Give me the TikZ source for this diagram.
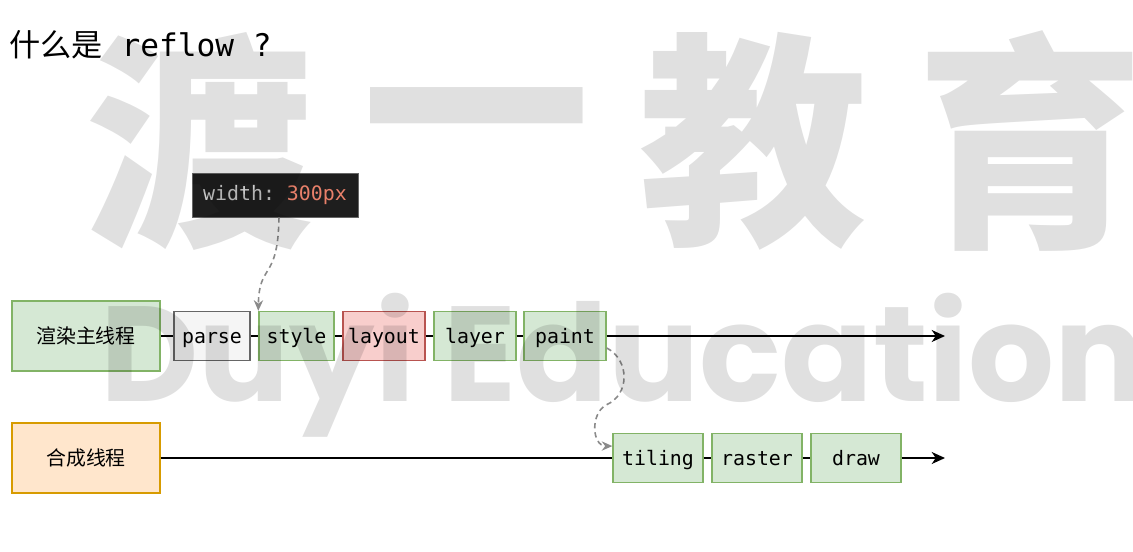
\documentclass[tikz,border=0pt]{standalone}
\usepackage{fontspec}
\usetikzlibrary{arrows.meta}
\setmainfont{Noto Sans CJK SC}
\setmonofont{DejaVu Sans Mono}
\newfontfamily\markfont{Poppins}

\definecolor{greenfill}{HTML}{D5E8D4}
\definecolor{greenline}{HTML}{82B366}
\definecolor{redfill}{HTML}{F8CECC}
\definecolor{redline}{HTML}{B85450}
\definecolor{orangefill}{HTML}{FFE6CC}
\definecolor{orangeline}{HTML}{D79B00}
\definecolor{greyfill}{HTML}{F5F5F5}
\definecolor{greyline}{HTML}{666666}
\definecolor{codebg}{HTML}{1E1E1E}
\definecolor{codekey}{HTML}{CCCCCC}
\definecolor{codeval}{HTML}{E8806A}
\definecolor{hintgray}{HTML}{8A8A8A}

\begin{document}
\begin{tikzpicture}[x=0.0265cm, y=-0.0265cm,
    thread/.style={draw, line width=1pt, inner sep=0pt, minimum width=3.922cm, minimum height=1.855cm, font=\fontsize{15}{18}\selectfont},
    stage/.style={draw=greenline, fill=greenfill, line width=1pt, inner sep=0pt, minimum height=1.3cm, text height=13pt, text depth=1pt, font=\fontsize{15}{18}\selectfont\ttfamily},
    link/.style={line width=1.4pt},
    hint/.style={hintgray, line width=1.2pt, dash pattern=on 4pt off 3pt, -{Stealth[length=8pt,width=7pt]}},
    watermark/.style={text=black, text opacity=0.12, inner sep=0pt}]
    \useasboundingbox (0,0) rectangle (1133,551);
    \clip (0,0) rectangle (1133,551);

    % title
    \node[anchor=west, inner sep=0pt, font=\fontsize{23.5}{26}\selectfont] (title) at (9,45) {什么是\texttt{ reflow ?}};

    % the changed property
    \node[fill=codebg, draw=greyline, line width=0.6pt, inner sep=0pt, minimum width=4.4cm, minimum height=1.166cm, font=\fontsize{15}{18}\selectfont\ttfamily] (code) at (275,195) {\textcolor{codekey}{width:} \textcolor{codeval}{300px}};

    % threads
    \node[thread, draw=greenline, fill=greenfill] (main) at (86,336) {渲染主线程};
    \node[thread, draw=orangeline, fill=orangefill] (comp) at (86,458) {合成线程};

    % main thread stages
    \node[stage, draw=greyline, fill=greyfill, minimum width=2.014cm] (parse) at (212,336) {parse};
    \node[stage, minimum width=1.99cm] (style) at (296.5,336) {style};
    \node[stage, draw=redline, fill=redfill, minimum width=2.173cm] (layout) at (384,336) {layout};
    \node[stage, minimum width=2.173cm] (layer) at (475,336) {layer};
    \node[stage, minimum width=2.173cm] (paint) at (565,336) {paint};

    % compositor stages
    \node[stage, minimum width=2.385cm] (tiling) at (658,458) {tiling};
    \node[stage, minimum width=2.385cm] (raster) at (757,458) {raster};
    \node[stage, minimum width=2.385cm] (draw) at (856,458) {draw};

    \coordinate (mainend) at (945,336);
    \coordinate (compend) at (945,458);

    % time lines
    \foreach \a/\b in {main/parse, parse/style, style/layout, layout/layer, layer/paint, tiling/raster, raster/draw} {
        \draw[link] (\a.east) -- (\b.west);
    }
    \draw[link, -{Stealth[length=10pt,width=9pt,inset=3pt]}] (paint.east) -- (mainend);
    \draw[link] (comp.east) -- (tiling.west);
    \draw[link, -{Stealth[length=10pt,width=9pt,inset=3pt]}] (draw.east) -- (compend);

    % dashed hints
    \draw[hint] ([xshift=3pt]code.south) .. controls (278,282) and (259,262) .. (style.north west);
    \draw[hint] ([yshift=-9pt]paint.east) .. controls (630,360) and (630,395) .. (606,405)
        .. controls (590,414) and (592,446) .. ([yshift=9pt]tiling.west);

    % watermark over everything
    \foreach \ch [count=\i from 0] in {渡,一,教,育} {
        \node[watermark, font=\fontsize{172}{172}\selectfont\bfseries] (wm\i) at (200+277*\i,141) {\ch};
    }
    \node[watermark, anchor=base west, font=\fontsize{102}{102}\selectfont\markfont\bfseries] (wmtext) at (100,401) {Duyi Education};
\end{tikzpicture}
\end{document}
